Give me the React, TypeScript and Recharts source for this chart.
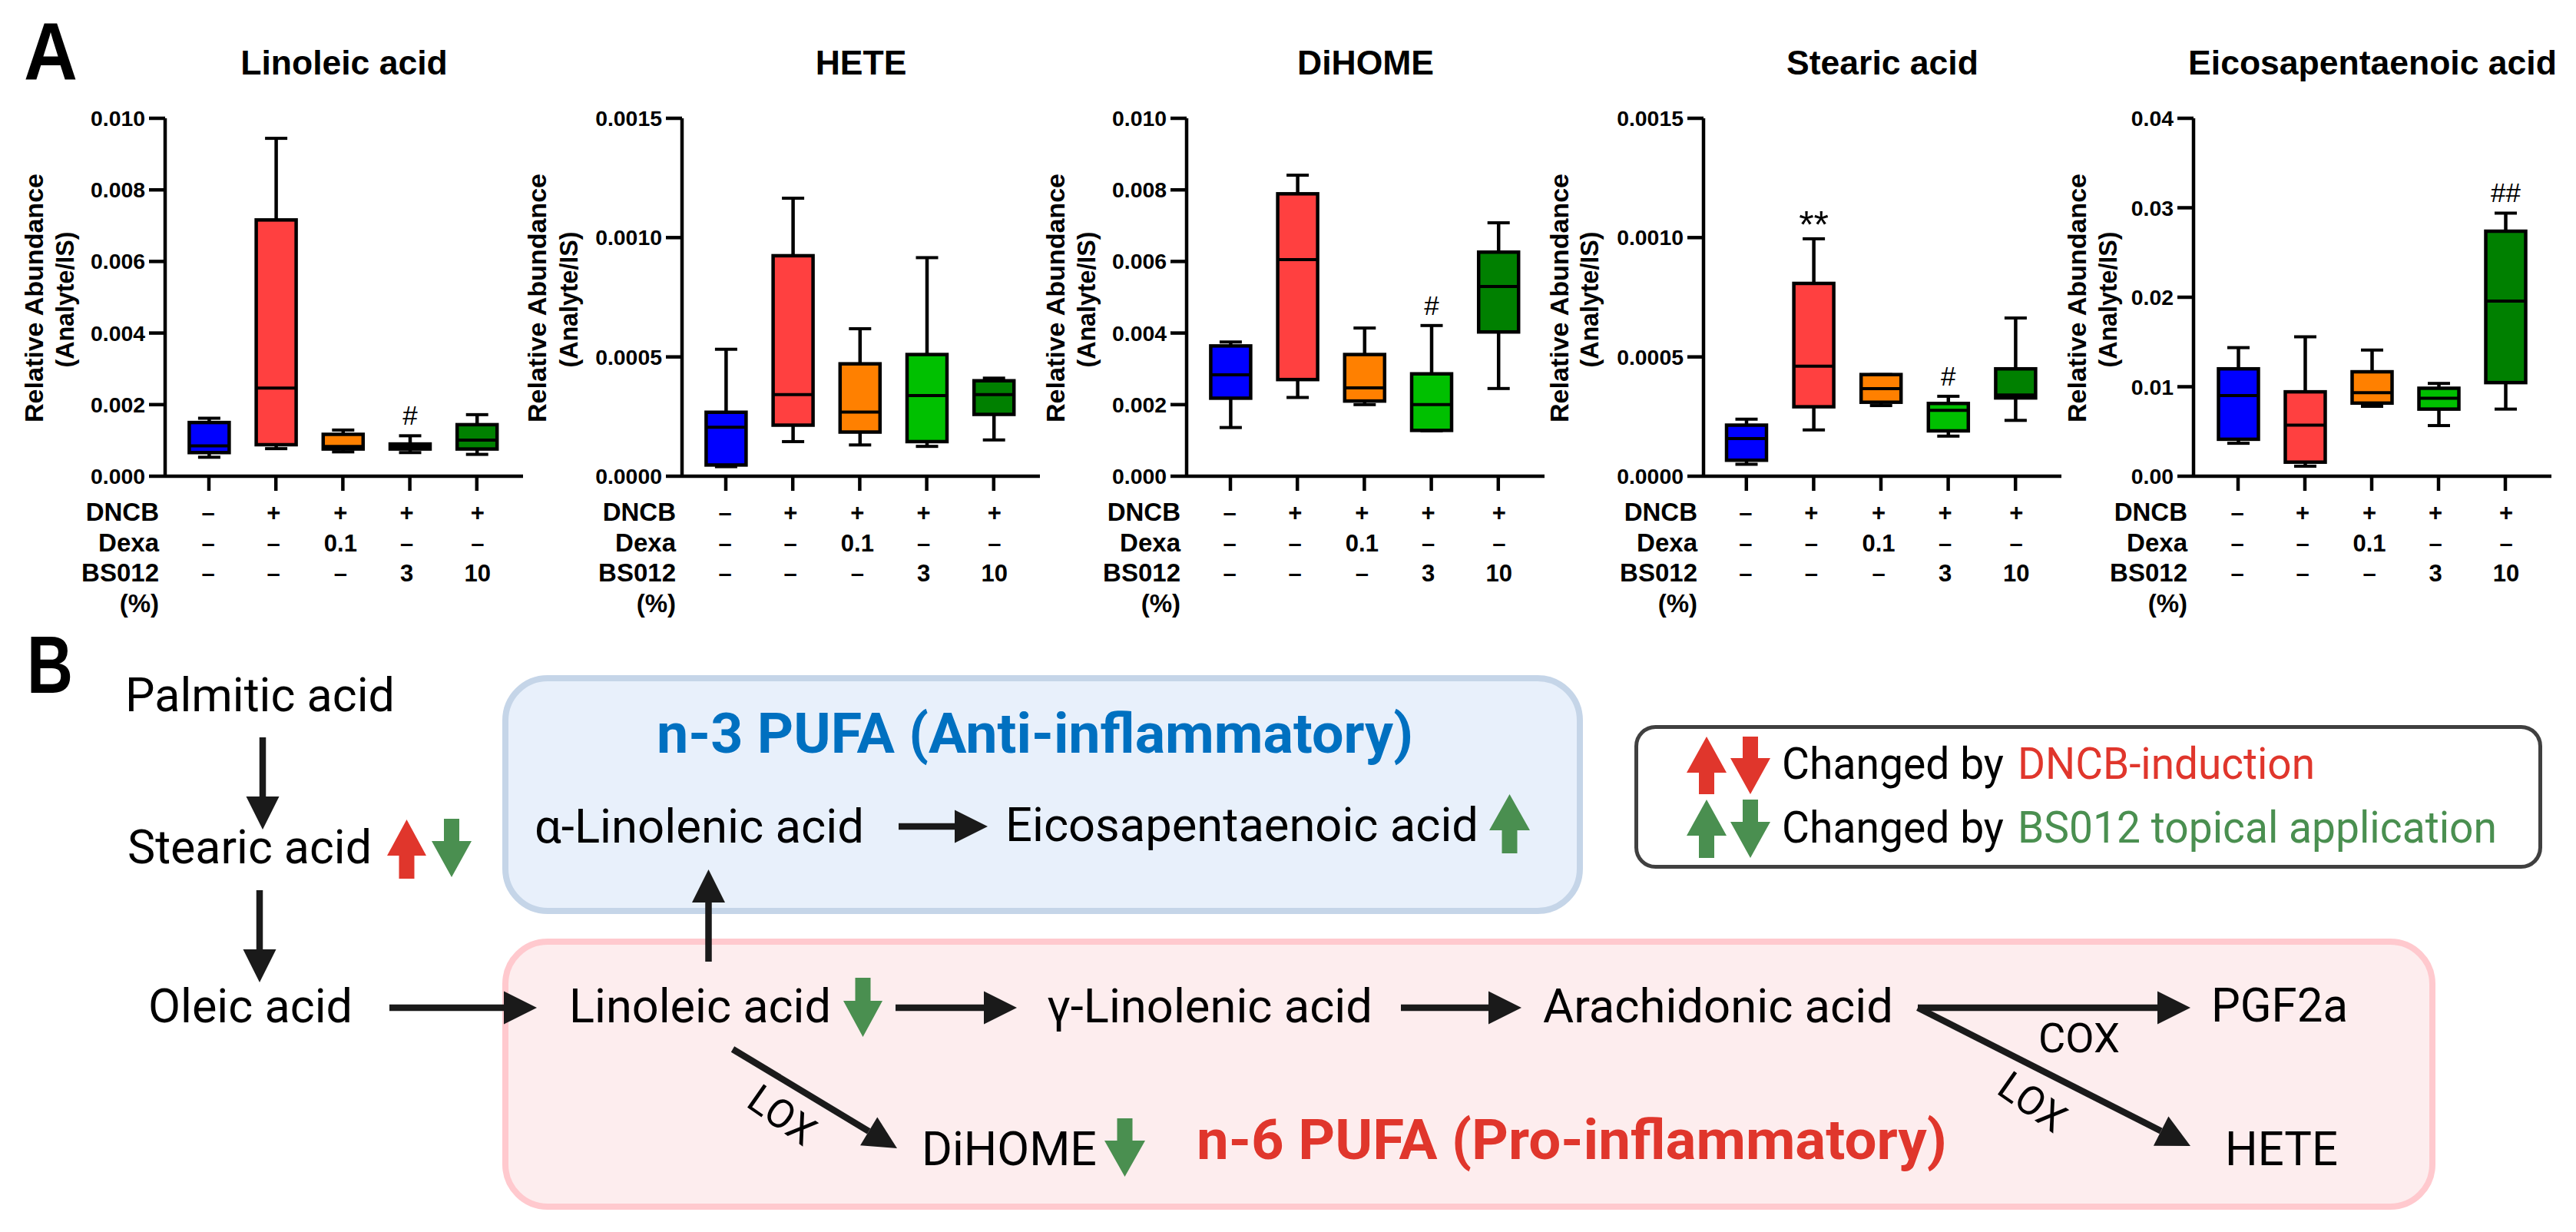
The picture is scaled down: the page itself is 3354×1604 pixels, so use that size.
import React from "react";
import { ComposedChart, Bar, XAxis, YAxis } from "recharts";

const groups = ["Vehicle", "DNCB", "Dexa 0.1", "BS012 3", "BS012 10"];
const boxColors = ["#0000FF", "#FF4040", "#FF8000", "#00C000", "#008000"];
const dncbRow = ["–", "+", "+", "+", "+"];
const dexaRow = ["–", "–", "0.1", "–", "–"];
const bs012Row = ["–", "–", "–", "3", "10"];
const rowLabels = ["DNCB", "Dexa", "BS012", "(%)"];

const linoleicHigh = [0.00162, 0.00944, 0.00129, 0.00113, 0.00172];
const linoleicQ3 = [0.0015, 0.00716, 0.00117, 0.0009, 0.00144];
const linoleicMedian = [0.00085, 0.00246, 0.00083, 0.00083, 0.00101];
const linoleicQ1 = [0.00066, 0.00088, 0.00076, 0.00076, 0.00076];
const linoleicLow = [0.00053, 0.00077, 0.00068, 0.00066, 0.00061];
const linoleicMarks = ["", "", "", "#", ""];

const heteHigh = [0.000532, 0.001165, 0.000618, 0.000916, 0.000411];
const heteQ3 = [0.000268, 0.000924, 0.000471, 0.00051, 0.0004];
const heteMedian = [0.000205, 0.000342, 0.000269, 0.000338, 0.000342];
const heteQ1 = [0.000047, 0.000214, 0.000185, 0.000145, 0.000259];
const heteLow = [0.00004, 0.000145, 0.000131, 0.000125, 0.000152];
const heteMarks = ["", "", "", "", ""];

const dihomeHigh = [0.00375, 0.00841, 0.00414, 0.00421, 0.00708];
const dihomeQ3 = [0.00364, 0.00789, 0.0034, 0.00286, 0.00626];
const dihomeMedian = [0.00283, 0.00605, 0.00247, 0.002, 0.0053];
const dihomeQ1 = [0.00218, 0.0027, 0.0021, 0.00128, 0.00403];
const dihomeLow = [0.00136, 0.0022, 0.002, 0.00127, 0.00245];
const dihomeMarks = ["", "", "", "#", ""];

const stearicHigh = [0.000239, 0.000995, 0.000426, 0.000335, 0.000663];
const stearicQ3 = [0.000214, 0.000808, 0.000426, 0.000305, 0.00045];
const stearicMedian = [0.000158, 0.000461, 0.000367, 0.000276, 0.00034];
const stearicQ1 = [0.000067, 0.000291, 0.00031, 0.00019, 0.000328];
const stearicLow = [0.00005, 0.000194, 0.000296, 0.000168, 0.000234];
const stearicMarks = ["", "**", "", "#", ""];

const epaHigh = [0.01437, 0.01558, 0.0141, 0.01037, 0.0294];
const epaQ3 = [0.012, 0.00943, 0.01167, 0.00983, 0.02738];
const epaMedian = [0.00902, 0.0057, 0.00934, 0.00871, 0.01957];
const epaQ1 = [0.00413, 0.00157, 0.00817, 0.0075, 0.01046];
const epaLow = [0.00368, 0.00112, 0.00781, 0.00566, 0.0075];
const epaMarks = ["", "", "", "", "##"];

const rows = (high, q3, median, q1, low, marks) =>
  groups.map((group, i) => ({ group, high: high[i], q3: q3[i], median: median[i], q1: q1[i], low: low[i], mark: marks[i] }));

const panels = [
  { title: "Linoleic acid", data: rows(linoleicHigh, linoleicQ3, linoleicMedian, linoleicQ1, linoleicLow, linoleicMarks), max: 0.01, ticks: [0, 0.002, 0.004, 0.006, 0.008, 0.01], dec: 3, left: 0, padL: 13.4, padR: 16.6, lab1: 56, lab2: 96 },
  { title: "HETE", data: rows(heteHigh, heteQ3, heteMedian, heteQ1, heteLow, heteMarks), max: 0.0015, ticks: [0, 0.0005, 0.001, 0.0015], dec: 4, left: 673, padL: 13.4, padR: 16.6, lab1: 38, lab2: 79 },
  { title: "DiHOME", data: rows(dihomeHigh, dihomeQ3, dihomeMedian, dihomeQ1, dihomeLow, dihomeMarks), max: 0.01, ticks: [0, 0.002, 0.004, 0.006, 0.008, 0.01], dec: 3, left: 1330, padL: 13.4, padR: 16.6, lab1: 56, lab2: 96 },
  { title: "Stearic acid", data: rows(stearicHigh, stearicQ3, stearicMedian, stearicQ1, stearicLow, stearicMarks), max: 0.0015, ticks: [0, 0.0005, 0.001, 0.0015], dec: 4, left: 2003, padL: 12, padR: 16, lab1: 39, lab2: 78 },
  { title: "Eicosapentaenoic acid", data: rows(epaHigh, epaQ3, epaMedian, epaQ1, epaLow, epaMarks), max: 0.04, ticks: [0, 0.01, 0.02, 0.03, 0.04], dec: 2, left: 2641, padL: 14.5, padR: 16.5, lab1: 75, lab2: 115 },
];

const ARIAL = "'Liberation Sans', Arial, sans-serif";
const ROBOTO = "Roboto, sans-serif";
const colNudge = [-1, -3, -3, -4, 1];

function BoxShape(props: any) {
  const { x, y, width, height, payload, index } = props;
  const toY = (v: number) => y + ((payload.q3 - v) / (payload.q3 - payload.q1)) * height;
  const cx = x + width / 2;
  const capW = 14.5;
  const stars = payload.mark === "**";
  return (
    <g>
      <line x1={cx} x2={cx} y1={toY(payload.high)} y2={toY(payload.low)} stroke="#000" strokeWidth={4.5} />
      <line x1={cx - capW} x2={cx + capW} y1={toY(payload.high)} y2={toY(payload.high)} stroke="#000" strokeWidth={4} />
      <line x1={cx - capW} x2={cx + capW} y1={toY(payload.low)} y2={toY(payload.low)} stroke="#000" strokeWidth={4} />
      <rect x={x} y={y} width={width} height={height} fill={boxColors[index]} stroke="#000" strokeWidth={4.5} />
      <line x1={x} x2={x + width} y1={toY(payload.median)} y2={toY(payload.median)} stroke="#000" strokeWidth={4} />
      {payload.mark ? (
        <text x={cx} y={toY(payload.high) - (stars ? 1 : 14)} textAnchor="middle" fontFamily={ARIAL} fontSize={stars ? 50 : 35} fill="#000">
          {payload.mark}
        </text>
      ) : null}
    </g>
  );
}

function TableTick(props: any) {
  const { x, index } = props;
  const cx = x + colNudge[index];
  const cell = (s: string, base: number) => (
    <text x={cx} y={base} textAnchor="middle" fontFamily={ARIAL} fontWeight={700} fontSize={31} fill="#000">
      {s}
    </text>
  );
  const bases = [678, 717.5, 757, 797];
  return (
    <g>
      {cell(dncbRow[index], bases[0])}
      {cell(dexaRow[index], bases[1])}
      {cell(bs012Row[index], bases[2])}
      {index === 0
        ? rowLabels.map((l, i) => (
            <text key={l} x={207} y={bases[i]} textAnchor="end" fontFamily={ARIAL} fontWeight={700} fontSize={33} fill="#000">
              {l}
            </text>
          ))
        : null}
    </g>
  );
}

function Panel({ p }: any) {
  return (
    <div style={{ position: "absolute", left: p.left, top: 0 }}>
      <ComposedChart width={711} height={810} data={p.data} margin={{ top: 154, right: 30, bottom: 0, left: 0 }}>
        <XAxis
          dataKey="group"
          interval={0}
          height={190}
          tickSize={19}
          padding={{ left: p.padL, right: p.padR }}
          axisLine={{ stroke: "#000", strokeWidth: 4.5 }}
          tickLine={{ stroke: "#000", strokeWidth: 4.5 }}
          tick={<TableTick />}
        />
        <YAxis
          width={215}
          domain={[0, p.max]}
          ticks={p.ticks}
          tickSize={21}
          tickMargin={5}
          tickFormatter={(v: number) => v.toFixed(p.dec)}
          axisLine={{ stroke: "#000", strokeWidth: 4.5 }}
          tickLine={{ stroke: "#000", strokeWidth: 4.5 }}
          tick={{ fontFamily: ARIAL, fontSize: 28.4, fontWeight: 700, fill: "#000" }}
        />
        <Bar dataKey={(d: any) => [d.q1, d.q3]} barSize={52} shape={<BoxShape />} isAnimationActive={false} />
        <text x={448} y={97} textAnchor="middle" fontFamily={ARIAL} fontWeight={700} fontSize={44.5} fill="#000">
          {p.title}
        </text>
        <text
          transform={`translate(${p.lab1} 388) rotate(-90)`}
          textAnchor="middle"
          fontFamily={ARIAL}
          fontWeight={700}
          fontSize={34}
          textLength={324}
          lengthAdjust="spacingAndGlyphs"
          fill="#000"
        >
          Relative Abundance
        </text>
        <text
          transform={`translate(${p.lab2} 390) rotate(-90)`}
          textAnchor="middle"
          fontFamily={ARIAL}
          fontWeight={700}
          fontSize={34}
          textLength={177}
          lengthAdjust="spacingAndGlyphs"
          fill="#000"
        >
          (Analyte/IS)
        </text>
      </ComposedChart>
    </div>
  );
}

function T({ x0, x1, base, size = 62, weight = 400, fill = "#000", family = ROBOTO, children }: any) {
  return (
    <text x={x0} y={base} fontFamily={family} fontSize={size} fontWeight={weight} fill={fill} textLength={x1 - x0} lengthAdjust="spacingAndGlyphs">
      {children}
    </text>
  );
}

function Arrow({ x1, y1, x2, y2, w = 8.5, head = 43, hw = 43 }: any) {
  const len = Math.hypot(x2 - x1, y2 - y1);
  const ux = (x2 - x1) / len;
  const uy = (y2 - y1) / len;
  const bx = x2 - ux * head;
  const by = y2 - uy * head;
  const pts = [`${x2},${y2}`, `${bx - (uy * hw) / 2},${by + (ux * hw) / 2}`, `${bx + (uy * hw) / 2},${by - (ux * hw) / 2}`].join(" ");
  return (
    <g>
      <line x1={x1} y1={y1} x2={bx} y2={by} stroke="#1A1A1A" strokeWidth={w} />
      <polygon points={pts} fill="#1A1A1A" />
    </g>
  );
}

function Block({ x0, x1, top, bottom, up, fill }: any) {
  const cx = (x0 + x1) / 2;
  const s = 10;
  const h = 47;
  const pts = up
    ? [[cx, top], [x1, top + h], [cx + s, top + h], [cx + s, bottom], [cx - s, bottom], [cx - s, top + h], [x0, top + h]]
    : [[cx, bottom], [x1, bottom - h], [cx + s, bottom - h], [cx + s, top], [cx - s, top], [cx - s, bottom - h], [x0, bottom - h]];
  return <polygon points={pts.map((q) => q.join(",")).join(" ")} fill={fill} />;
}

const RED = "#E0362C";
const GREEN = "#4A8F50";
const BLUE = "#0070C0";

function Diagram() {
  return (
    <svg width={3354} height={1604} style={{ position: "absolute", left: 0, top: 0 }}>
      <T x0={31} x1={101} base={104} size={105} weight={700} family={ARIAL}>A</T>
      <T x0={35} x1={95} base={902} size={105} weight={700} family={ARIAL}>B</T>

      <rect x={658} y={883} width={1399} height={303} rx={55} ry={55} fill="#E8F0FB" stroke="#C5D5E8" strokeWidth={8} />
      <rect x={658} y={1226} width={2509} height={345} rx={55} ry={55} fill="#FDEDEE" stroke="#FFC9CE" strokeWidth={8} />
      <rect x={2130.5} y={946.5} width={1177} height={182} rx={25} ry={25} fill="#FFF" stroke="#404040" strokeWidth={5} />

      <T x0={163} x1={514} base={926}>Palmitic acid</T>
      <T x0={166} x1={484} base={1124}>Stearic acid</T>
      <T x0={193} x1={459} base={1331}>Oleic acid</T>
      <T x0={696} x1={1125} base={1097}>α-Linolenic acid</T>
      <T x0={1309} x1={1925} base={1095}>Eicosapentaenoic acid</T>
      <T x0={741} x1={1082} base={1331}>Linoleic acid</T>
      <T x0={1363} x1={1787} base={1331}>γ-Linolenic acid</T>
      <T x0={2009} x1={2465} base={1331}>Arachidonic acid</T>
      <T x0={2879} x1={3057} base={1330}>PGF2a</T>
      <T x0={2897} x1={3044} base={1517}>HETE</T>
      <T x0={1200} x1={1428} base={1517}>DiHOME</T>
      <T x0={2654} x1={2760} base={1370} size={54}>COX</T>
      <text transform="translate(1018 1452) rotate(35)" textAnchor="middle" dominantBaseline="central" fontFamily={ROBOTO} fontSize={52} fill="#000">LOX</text>
      <text transform="translate(2646 1435) rotate(35)" textAnchor="middle" dominantBaseline="central" fontFamily={ROBOTO} fontSize={52} fill="#000">LOX</text>

      <T x0={855} x1={1840} base={980} size={72} weight={700} fill={BLUE}>n-3 PUFA (Anti-inflammatory)</T>
      <T x0={1558} x1={2535} base={1509} size={72} weight={700} fill={RED}>n-6 PUFA (Pro-inflammatory)</T>

      <T x0={2320} x1={2609} base={1014} size={58}>Changed by</T>
      <T x0={2627} x1={3014} base={1014} size={58} fill={RED}>DNCB-induction</T>
      <T x0={2320} x1={2609} base={1097} size={58}>Changed by</T>
      <T x0={2627} x1={3251} base={1097} size={58} fill={GREEN}>BS012 topical application</T>

      <Block x0={2196} x1={2248} top={959} bottom={1034} up fill={RED} />
      <Block x0={2253} x1={2305} top={959} bottom={1034} fill={RED} />
      <Block x0={2196} x1={2248} top={1041} bottom={1117} up fill={GREEN} />
      <Block x0={2253} x1={2305} top={1041} bottom={1117} fill={GREEN} />
      <Block x0={504} x1={555} top={1067} bottom={1144} up fill={RED} />
      <Block x0={562} x1={614} top={1066} bottom={1142} fill={GREEN} />
      <Block x0={1939} x1={1992} top={1034} bottom={1111} up fill={GREEN} />
      <Block x0={1098} x1={1149} top={1273} bottom={1350} fill={GREEN} />
      <Block x0={1438} x1={1491} top={1456} bottom={1532} fill={GREEN} />

      <Arrow x1={342} y1={960} x2={342} y2={1080} />
      <Arrow x1={338} y1={1159} x2={338} y2={1279} />
      <Arrow x1={922.5} y1={1252} x2={922.5} y2={1132} />
      <Arrow x1={507} y1={1312} x2={699} y2={1312} />
      <Arrow x1={1170} y1={1076} x2={1286} y2={1076} />
      <Arrow x1={1166} y1={1312} x2={1324} y2={1312} />
      <Arrow x1={1824} y1={1312} x2={1981} y2={1312} />
      <Arrow x1={2497} y1={1312} x2={2852} y2={1312} />
      <Arrow x1={2497} y1={1312} x2={2852} y2={1492} />
      <Arrow x1={954} y1={1366} x2={1168} y2={1495} />
    </svg>
  );
}

export default function App() {
  return (
    <div style={{ position: "absolute", left: 0, top: 0, width: 3354, height: 1604, background: "#fff", overflow: "hidden" }}>
      <Diagram />
      {panels.map((p) => (
        <Panel key={p.title} p={p} />
      ))}
    </div>
  );
}
